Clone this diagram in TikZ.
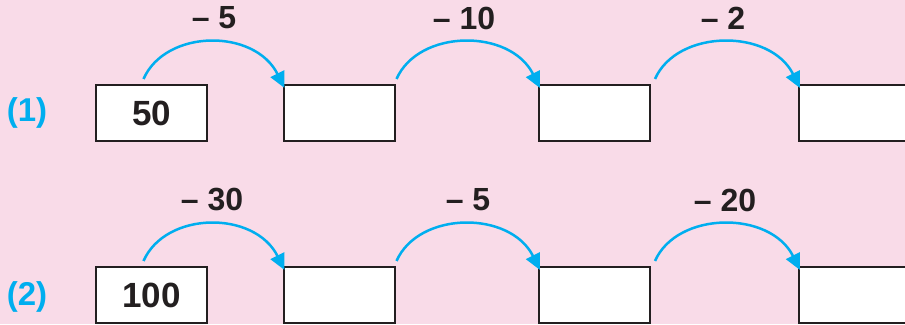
\documentclass[tikz,border=0pt]{standalone}
\usepackage{fontspec}
\setmainfont{Liberation Sans}
\usetikzlibrary{arrows.meta}
\definecolor{bgpink}{HTML}{F9DBE8}
\definecolor{arccyan}{HTML}{00AEEF}
\definecolor{boxline}{HTML}{231F20}
\begin{document}
\begin{tikzpicture}[x=1pt,y=1pt,
  numbox/.style={draw=boxline,line width=2pt,fill=white,minimum width=111pt,minimum height=56pt,inner sep=0pt,
    font=\fontsize{35}{35}\selectfont\bfseries,text=boxline},
  steplabel/.style={inner sep=0pt,font=\fontsize{32}{32}\selectfont\bfseries,text=boxline},
  rowlabel/.style={inner sep=0pt,font=\fontsize{33}{33}\selectfont\bfseries,text=arccyan},
  jump/.style={draw=arccyan,line width=2.5pt,-{Triangle[length=16pt,width=15pt]}}]
\useasboundingbox (0,0) rectangle (905,324);
\fill[bgpink] (0,0) rectangle (905,324);
\begin{scope}
\clip (0,0) rectangle (905,324);
% row 1
\node[numbox] (a1) at (151.5,211) {50};
\node[numbox] (a2) at (339,211) {};
\node[numbox] (a3) at (594.5,211) {};
\node[numbox] (a4) at (854.5,211) {};
% row 2
\node[numbox] (b1) at (151.5,29) {100};
\node[numbox] (b2) at (339,29) {};
\node[numbox] (b3) at (594.5,29) {};
\node[numbox] (b4) at (854.5,29) {};
\end{scope}
\node[rowlabel] (r1) at (27,211) {(1)};
\node[rowlabel] (r2) at (27,27) {(2)};
% arcs row 1
\coordinate (s1) at ([xshift=-8pt,yshift=5pt]a1.north);
\coordinate (s2) at ([xshift=1pt,yshift=5pt]a2.north east);
\coordinate (s3) at ([xshift=4pt,yshift=5pt]a3.north east);
\coordinate (t1) at ([xshift=2pt,yshift=-4pt]a2.north west);
\coordinate (t2) at ([xshift=2pt,yshift=-4pt]a3.north west);
\coordinate (t3) at ([xshift=2pt,yshift=-4pt]a4.north west);
\draw[jump] (s1) .. controls +(22,50) and +(-30,60) .. (t1);
\draw[jump] (s2) .. controls +(22,50) and +(-30,60) .. (t2);
\draw[jump] (s3) .. controls +(22,50) and +(-30,60) .. (t3);
% arcs row 2
\coordinate (u1) at ([xshift=-8pt,yshift=5pt]b1.north);
\coordinate (u2) at ([xshift=1pt,yshift=5pt]b2.north east);
\coordinate (u3) at ([xshift=4pt,yshift=5pt]b3.north east);
\coordinate (v1) at ([xshift=2pt,yshift=-4pt]b2.north west);
\coordinate (v2) at ([xshift=2pt,yshift=-4pt]b3.north west);
\coordinate (v3) at ([xshift=2pt,yshift=-4pt]b4.north west);
\draw[jump] (u1) .. controls +(22,50) and +(-30,60) .. (v1);
\draw[jump] (u2) .. controls +(22,50) and +(-30,60) .. (v2);
\draw[jump] (u3) .. controls +(22,50) and +(-30,60) .. (v3);
% step labels
\node[steplabel] (l1) at (214,306) {– 5};
\node[steplabel] (l2) at (464,306) {– 10};
\node[steplabel] (l3) at (723,306) {– 2};
\node[steplabel] (l4) at (212,124) {– 30};
\node[steplabel] (l5) at (468,124) {– 5};
\node[steplabel] (l6) at (725,124) {– 20};
\end{tikzpicture}
\end{document}
